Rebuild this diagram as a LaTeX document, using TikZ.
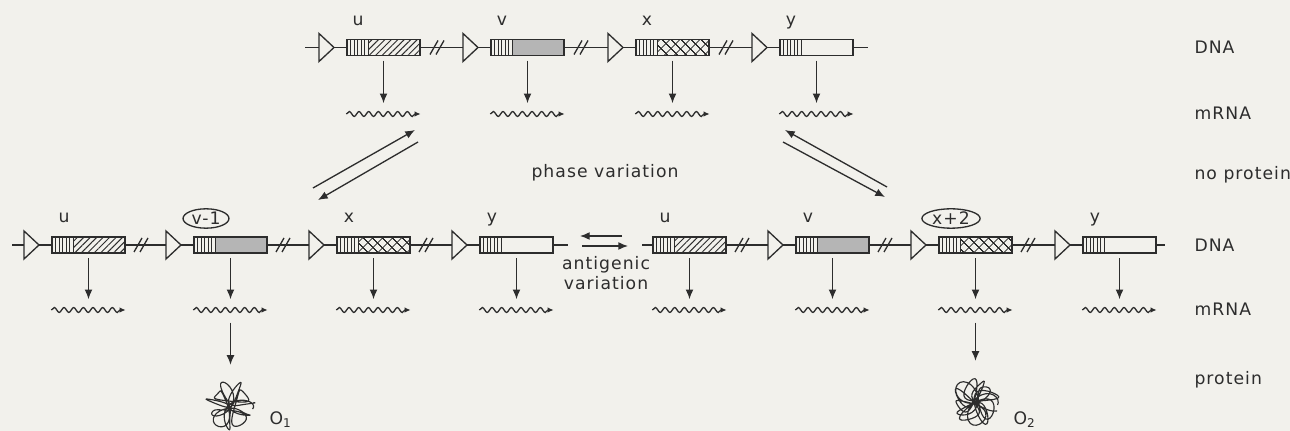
\documentclass[tikz,border=0pt]{standalone}
\usepackage{fontspec}
\setmainfont{DejaVu Sans}[LetterSpace=6.0]
\usetikzlibrary{shapes.geometric,arrows.meta,patterns.meta,decorations.pathmorphing}

\definecolor{paper}{RGB}{242,241,236}
\definecolor{ink}{RGB}{45,45,45}

\tikzset{
  gene/.style={draw, fill=paper, minimum width=1.46cm, minimum height=0.32cm, inner sep=0pt,
    path picture={
      \fill[#1] ([xshift=0.42cm]path picture bounding box.south west) rectangle (path picture bounding box.north east);
      \foreach \k in {0.07,0.14,0.21,0.28,0.35,0.42}
        \draw[line width=0.55pt] ([xshift=\k cm]path picture bounding box.south west) -- ([xshift=\k cm]path picture bounding box.north west);
    }},
  promoter/.pic={\draw[fill=paper] (0,-14) -- (15,0) -- (0,14) -- cycle;},
  gap/.pic={\draw (-10,7) -- (-2,-7) (-4,7) -- (4,-7);}
}

\begin{document}
\begin{tikzpicture}[x=0.02cm, y=-0.02cm, line width=0.75pt, color=ink]
  \tikzstyle{every node}=[font=\fontsize{9.8}{11.4}\selectfont]
  \tikzstyle{lab}=[text height=5pt, text depth=0pt, inner sep=0pt]
  \tikzstyle{ringed}=[draw, ellipse, inner xsep=1pt, inner ysep=0.5pt, text height=6.8pt, text depth=0pt]
  \tikzstyle{hatched}=[pattern={Lines[angle=45,distance=2.6pt,line width=0.55pt]}, pattern color=ink]
  \tikzstyle{crossed}=[pattern={Hatch[angle=45,distance=4pt,line width=0.55pt]}, pattern color=ink]
  \tikzstyle{stippled}=[fill=ink!35]
  \tikzstyle{blank}=[fill=paper]
  \tikzstyle{mrna}=[minimum width=1.46cm, minimum height=0.3cm, inner sep=0pt]
  \tikzstyle{wave}=[decorate, decoration={snake, amplitude=1.4pt, segment length=5.5pt, post length=2.5pt}, -{Latex[length=3.5pt,width=3.2pt]}]
  \tikzstyle{tx}=[-{Latex[length=5.5pt,width=4.5pt]}, shorten <=2.6pt, shorten >=1.5pt]
  \tikzstyle{switch}=[-{Latex[length=5.5pt,width=4.5pt]}]
  \tikzstyle{blob}=[line width=0.65pt, smooth, variable=\a, samples=220]

  \path[use as bounding box, fill=paper] (0,0) rectangle (1290,431);

  % upper chromosome: every gene silent
  \coordinate (top-5) at (305,47.5);
  \coordinate (top-3) at (868,47.5);
  \draw (top-5) -- (top-3);
  \foreach \x in {347,491,636,780} \pic at (\x-28,47.5) {promoter};
  \foreach \x in {347,491,636} \pic at (\x+93,47.5) {gap};
  \foreach \g/\x/\p/\txt/\ls in {u1/347/hatched/u/lab, v1/491/stippled/v/lab,
                                 x1/636/crossed/x/lab, y1/780/blank/y/lab}{
    \node[gene=\p] (\g) at (\x+36.5,47.5) {};
    \node[\ls] (l-\g) at (\x+11,21) {\txt};
    \node[mrna] (m-\g) at (\x+36.5,114) {};
    \draw[tx] (\g) -- (m-\g);
    \draw[wave] (m-\g.west) -- (m-\g.east);
  }

  % lower left chromosome
  \coordinate (a-5) at (12,245);
  \coordinate (a-3) at (568,245);
  \draw (a-5) -- (a-3);
  \foreach \x in {52,194,337,480} \pic at (\x-28,245) {promoter};
  \foreach \x in {52,194,337} \pic at (\x+92,245) {gap};
  \foreach \g/\x/\p/\txt/\ls in {u2/52/hatched/u/lab, v2/194/stippled/v-1/ringed,
                                 x2/337/crossed/x/lab, y2/480/blank/y/lab}{
    \node[gene=\p] (\g) at (\x+36.5,245) {};
    \node[\ls] (l-\g) at (\x+12,218.5) {\txt};
    \node[mrna] (m-\g) at (\x+36.5,310) {};
    \draw[tx] (\g) -- (m-\g);
    \draw[wave] (m-\g.west) -- (m-\g.east);
  }

  % lower right chromosome, u has lost its promoter
  \coordinate (b-5) at (642,245);
  \coordinate (b-3) at (1165,245);
  \draw (b-5) -- (b-3);
  \foreach \x in {796,939,1083} \pic at (\x-28,245) {promoter};
  \foreach \x in {653,796,939} \pic at (\x+92,245) {gap};
  \foreach \g/\x/\p/\txt/\ls in {u3/653/hatched/u/lab, v3/796/stippled/v/lab,
                                 x3/939/crossed/x+2/ringed, y3/1083/blank/y/lab}{
    \node[gene=\p] (\g) at (\x+36.5,245) {};
    \node[\ls] (l-\g) at (\x+12,218.5) {\txt};
    \node[mrna] (m-\g) at (\x+36.5,310) {};
    \draw[tx] (\g) -- (m-\g);
    \draw[wave] (m-\g.west) -- (m-\g.east);
  }

  % the two translated products
  \node[circle, minimum size=0.9cm, inner sep=0pt] (p1) at (230.5,406) {};
  \node[circle, minimum size=0.9cm, inner sep=0pt] (p2) at (975.5,402) {};
  \draw[tx, shorten >=0.36cm] (m-v2) -- (p1);
  \draw[tx, shorten >=0.36cm] (m-x3) -- (p2);
  \draw[blob, shift={(p1)}] plot[domain=0:1080]
    ({12*cos(\a)+10*cos(2.7*\a)+3*sin(5.1*\a)}, {12*sin(\a)-10*sin(2.7*\a)+3*cos(4.3*\a)});
  \draw[blob, shift={(p2)}] plot[domain=0:1080]
    ({11*cos(\a)+11*cos(3.3*\a)+3*sin(4.7*\a)}, {11*sin(\a)-11*sin(3.3*\a)+3*cos(5.3*\a)});
  \node[anchor=base west] (o1) at (263,425) {O\textsubscript{1}};
  \node[anchor=base west] (o2) at (1007,425) {O\textsubscript{2}};

  % switching between the states
  \coordinate (ph1) at (313,188); \coordinate (ph2) at (415,130);
  \coordinate (ph3) at (418,142); \coordinate (ph4) at (318,200);
  \coordinate (ph5) at (887,187); \coordinate (ph6) at (785,130);
  \coordinate (ph7) at (783,142); \coordinate (ph8) at (885,197);
  \draw[switch] (ph1) -- (ph2);
  \draw[switch] (ph3) -- (ph4);
  \draw[switch] (ph5) -- (ph6);
  \draw[switch] (ph7) -- (ph8);
  \node (pv) at (605,173) {phase variation};

  \coordinate (ag1) at (622,236); \coordinate (ag2) at (580,236);
  \coordinate (ag3) at (582,246); \coordinate (ag4) at (628,246);
  \draw[switch] (ag1) -- (ag2);
  \draw[switch] (ag3) -- (ag4);
  \node[align=center] (av) at (606,273) {antigenic\\variation};

  % row captions
  \node[anchor=west] (r1) at (1188,47.5) {DNA};
  \node[anchor=west] (r2) at (1188,113) {mRNA};
  \node[anchor=west] (r3) at (1188,175) {no protein};
  \node[anchor=west] (r4) at (1188,245) {DNA};
  \node[anchor=west] (r5) at (1188,309) {mRNA};
  \node[anchor=west] (r6) at (1188,380) {protein};
\end{tikzpicture}
\end{document}
